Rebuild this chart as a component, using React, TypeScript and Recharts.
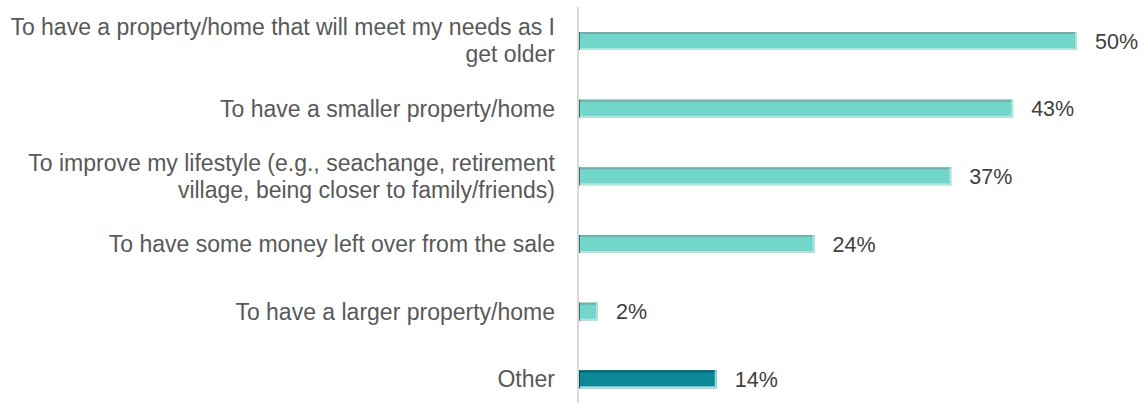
import React from 'react';
import { BarChart, Bar, XAxis, YAxis, LabelList } from 'recharts';

// categories, top to bottom (\n = forced line break like in the source)
const categories = [
    'To have a property/home that will meet my needs as I\nget older',
    'To have a smaller property/home',
    'To improve my lifestyle (e.g., seachange, retirement\nvillage, being closer to family/friends)',
    'To have some money left over from the sale',
    'To have a larger property/home',
    'Other',
];

// share of respondents, % (bar lengths)
const shares = [50.0, 43.6, 37.4, 23.7, 2.0, 13.9];

// printed value labels
const shareLabels = ['50%', '43%', '37%', '24%', '2%', '14%'];

const chartData = categories.map((name, i) => ({ name, value: shares[i], label: shareLabels[i] }));

const FONT = '"Liberation Sans", Arial, sans-serif';

const CategoryTick = (props: any) => {
    const { x, y, payload } = props;
    const lines: string[] = String(payload.value).split('\n');
    const lineHeight = 27;
    const startY = y - ((lines.length - 1) * lineHeight) / 2;
    return (
        <text
            x={x}
            y={startY}
            textAnchor="end"
            dominantBaseline="central"
            fill="#595959"
            fontSize={23}
            fontFamily={FONT}
        >
            {lines.map((line, i) => (
                <tspan key={i} x={x} y={startY + i * lineHeight} dominantBaseline="central">
                    {line}
                </tspan>
            ))}
        </text>
    );
};

const BevelBar = (props: any) => {
    const { x, y, width, height, payload } = props;
    if (!width || width <= 0) return null;
    const isOther = payload && payload.name === 'Other';
    const fill = isOther ? '#0b8796' : '#72d6cb';
    const top = isOther ? '#0a5f69' : '#7fa8a4';
    const left = isOther ? '#07505a' : '#3f6e69';
    const bottom = isOther ? '#9ae6ee' : '#a6ebe2';
    const right = isOther ? '#8fdfe6' : '#a9e4dd';
    return (
        <g>
            <rect x={x} y={y} width={width} height={height} fill={fill} />
            <rect x={x} y={y} width={width} height={2} fill={top} />
            <rect x={x} y={y + height - 2} width={width} height={2} fill={bottom} />
            <rect x={x + width - 2} y={y} width={2} height={height} fill={right} />
            <rect x={x} y={y} width={2} height={height} fill={left} />
        </g>
    );
};

export default function App() {
    return (
        <div style={{ position: 'absolute', top: 0, left: 0, width: 1143, height: 403, overflow: 'hidden', background: '#fff' }}>
            <BarChart
                width={1143}
                height={413}
                data={chartData}
                layout="vertical"
                margin={{ top: 7, right: 66, left: 0, bottom: 0 }}
                barSize={18}
            >
                <XAxis type="number" domain={[0, 50]} hide />
                <YAxis
                    type="category"
                    dataKey="name"
                    width={578}
                    tickLine={false}
                    tickSize={0}
                    tickMargin={23}
                    axisLine={{ stroke: '#d9d9d9', strokeWidth: 2 }}
                    tick={<CategoryTick />}
                    interval={0}
                />
                <Bar dataKey="value" shape={<BevelBar />} isAnimationActive={false}>
                    <LabelList
                        dataKey="label"
                        position="right"
                        offset={18}
                        fill="#404040"
                        fontSize={21.5}
                        fontFamily={FONT}
                    />
                </Bar>
            </BarChart>
        </div>
    );
}
